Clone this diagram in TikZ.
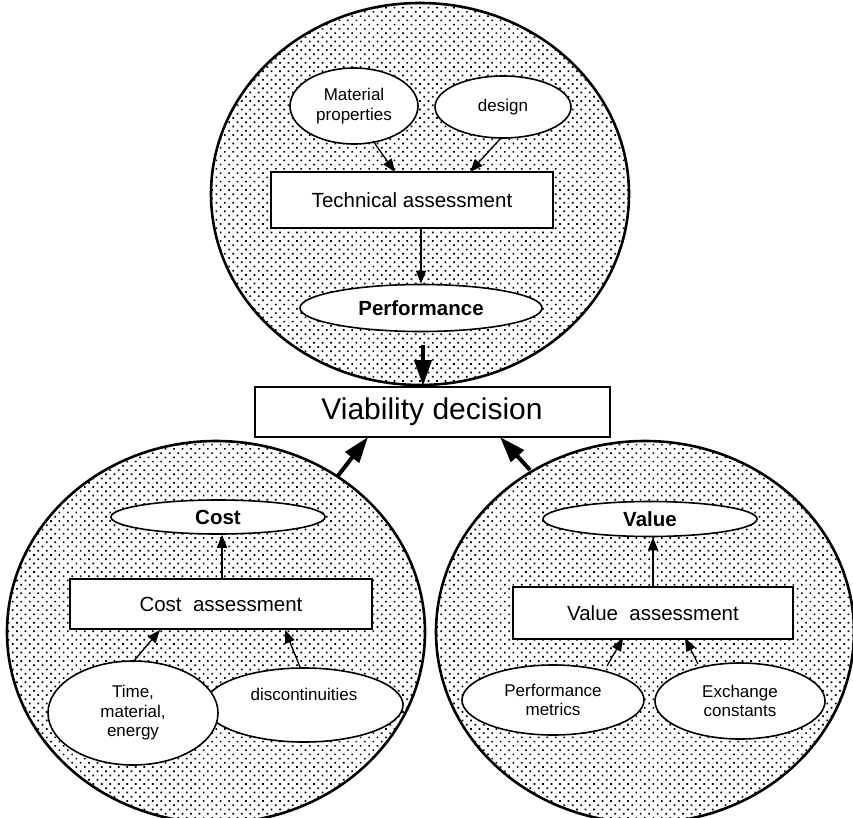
\documentclass[tikz,border=0pt]{standalone}
\usepackage{fontspec}
\setmainfont{Liberation Sans}
\usetikzlibrary{shapes.geometric,patterns.meta,arrows.meta}
\begin{document}
\begin{tikzpicture}[x=1pt,y=-1pt,
  bigcirc/.style={ellipse,draw,line width=2.6pt,minimum width=418pt,minimum height=382pt,inner sep=0pt,
     preaction={fill=white},pattern={Dots[distance=6pt,angle=45,radius=1.2pt]}},
  oval/.style={ellipse,draw,fill=white,line width=1.6pt,inner sep=0pt,align=center,
     font=\fontsize{17}{19.5}\selectfont},
  boldoval/.style={oval,font=\fontsize{20.5}{24}\bfseries},
  abox/.style={rectangle,draw,fill=white,line width=2.4pt,inner sep=0pt,font=\fontsize{20.5}{24}\selectfont},
  lbl/.style={inner sep=0pt,align=center,font=\fontsize{17}{19.5}\selectfont},
  thin/.style={line width=1.3pt,-{Triangle[length=13pt,width=10pt]}},
  thick/.style={line width=4pt,-{Triangle[length=26pt,width=17pt]}}
]
\useasboundingbox (0,0) rectangle (853,818);
\clip (0,0) rectangle (853,818);

% big circles
\node[bigcirc] (topc) at (420,194) {};
\node[bigcirc] (blc) at (216,632) {};
\node[bigcirc] (brc) at (645,632) {};

% top group
\node[oval,minimum width=128pt,minimum height=76pt] (mat) at (354,106) {Material\\properties};
\node[oval,minimum width=136pt,minimum height=62pt] (des) at (503,107) {design};
\node[abox,minimum width=282pt,minimum height=56pt] (tech) at (412,200) {Technical assessment};
\node[boldoval,minimum width=242pt,minimum height=47pt] (perf) at (421,308) {Performance};
\coordinate (m1) at (373,141);
\coordinate (d1) at (500,139);
\draw[thin] (m1) -- (395,172);
\draw[thin] (d1) -- (470,172);
\draw[thin] (tech.south -| perf.north) -- (perf.north);

% viability
\node[abox,line width=2pt,minimum width=355pt,minimum height=50pt,font=\fontsize{30}{34}\selectfont] (viab) at (432,412) {Viability decision};

% bottom-left group
\node[boldoval,minimum width=214pt,minimum height=34pt] (cost) at (218,517) {Cost};
\node[abox,minimum width=302pt,minimum height=50pt] (costbox) at (221,604) {Cost\ \ assessment};
\node[oval,minimum width=198pt,minimum height=74pt] (disc) at (304,705) {};
\node[lbl] (disct) at (304,694) {discontinuities};
\node[oval,minimum width=170pt,minimum height=104pt] (tme) at (133,713) {Time,\\material,\\energy};
\draw[thin] (costbox.north -| cost.south) ++(4,0) -- ([xshift=4pt]cost.south);
\draw[thin] (133,662) -- (160,630);
\draw[thin] (300,667) -- (285,630);

% bottom-right group
\node[boldoval,minimum width=214pt,minimum height=35pt] (val) at (650,519) {Value};
\node[abox,minimum width=280pt,minimum height=52pt] (valbox) at (653,613) {Value\ \ assessment};
\node[oval,minimum width=182pt,minimum height=70pt] (pm) at (553,700) {Performance\\metrics};
\node[oval,minimum width=170pt,minimum height=76pt] (exc) at (740,701) {Exchange\\constants};
\draw[thin] (valbox.north -| val.south) ++(3,0) -- ([xshift=3pt]val.south);
\draw[thin] (607,666) -- (623,638);
\draw[thin] (698,664) -- (685,638);

% thick arrows
\coordinate (pt) at (423,345);
\coordinate (bl) at (337,477);
\coordinate (br) at (530,470);
\draw[thick] (pt) -- (pt |- viab.north);
\draw[thick] (bl) -- (368,437);
\draw[thick] (br) -- (500,437);
\end{tikzpicture}
\end{document}
